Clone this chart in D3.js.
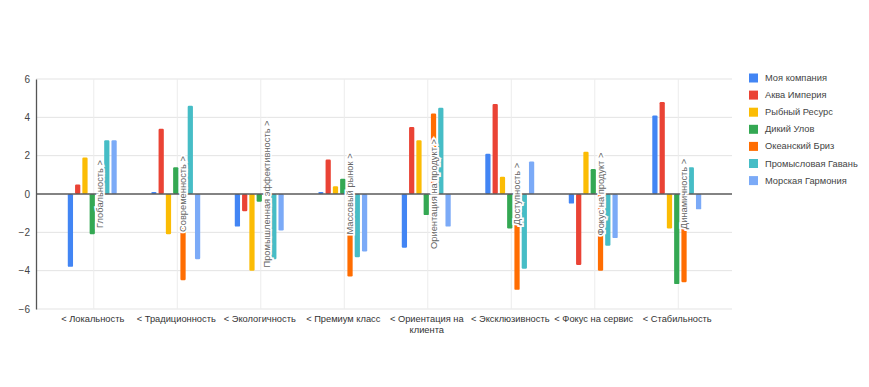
<!DOCTYPE html>
<html>
<head>
<meta charset="utf-8">
<script src="https://cdn.jsdelivr.net/npm/d3@7"></script>
<style>
  body { margin: 0; background: #fff; }
  svg { font-family: Arial, "Liberation Sans", sans-serif; }
</style>
</head>
<body>
<svg id="chart" width="869" height="387"></svg>
<script>
const categories = ["< Локальность", "< Традиционность", "< Экологичность", "< Премиум класс",
  "< Ориентация на клиента", "< Эксклюзивность", "< Фокус на сервис", "< Стабильность"];
const opposites = ["Глобальность >", "Современность >", "Промышленная эффективность >", "Массовый рынок >",
  "Ориентация на продукт >", "Доступность >", "Фокус на продукт >", "Динамичность >"];
const seriesNames = ["Моя компания", "Аква Империя", "Рыбный Ресурс", "Дикий Улов",
  "Океанский Бриз", "Промысловая Гавань", "Морская Гармония"];
const colors = ["#4285F4", "#EA4335", "#FBBC04", "#34A853", "#FF6D01", "#46BDC6", "#7BAAF7"];

const myCompany = [-3.8, 0.1, -1.7, 0.1, -2.8, 2.1, -0.5, 4.1];
const akvaImperia = [0.5, 3.4, -0.9, 1.8, 3.5, 4.7, -3.7, 4.8];
const rybnyResurs = [1.9, -2.1, -4.0, 0.4, 2.8, 0.9, 2.2, -1.8];
const dikiyUlov = [-2.1, 1.4, -0.4, 0.8, -1.1, -1.8, 1.3, -4.7];
const okeanskiyBriz = [0, -4.5, 0, -4.3, 4.2, -5.0, -4.0, -4.6];
const promyslovayaGavan = [2.8, 4.6, -3.4, -3.3, 4.5, -3.9, -2.7, 1.4];
const morskayaGarmonia = [2.8, -3.4, -1.9, -3.0, -1.7, 1.7, -2.3, -0.8];
const seriesValues = [myCompany, akvaImperia, rybnyResurs, dikiyUlov, okeanskiyBriz, promyslovayaGavan, morskayaGarmonia];
const yTicks = [-6, -4, -2, 0, 2, 4, 6];

const svg = d3.select("svg#chart");
const plot = { left: 36, right: 732, top: 79, bottom: 309 };

// SCALES
const x0 = d3.scaleBand().domain(categories).range([51, 719]).padding(0);
const x1 = d3.scaleBand().domain(seriesNames).range([-27, 26]).padding(0.28);
const y = d3.scaleLinear().domain([-6, 6]).range([plot.bottom, plot.top]);
const cx = c => x0(c) + x0.bandwidth() / 2;

// GRID
svg.append("g")
  .selectAll("line")
  .data(yTicks.filter(d => d !== 0))
  .join("line")
  .attr("x1", plot.left).attr("x2", plot.right)
  .attr("y1", d => y(d)).attr("y2", d => y(d))
  .attr("stroke", "#e3e3e3");

svg.append("g")
  .selectAll("line")
  .data(categories)
  .join("line")
  .attr("x1", d => cx(d) + 1).attr("x2", d => cx(d) + 1)
  .attr("y1", plot.top).attr("y2", plot.bottom)
  .attr("stroke", "#ececec");

// BARS
const groups = svg.append("g")
  .selectAll("g")
  .data(categories)
  .join("g")
  .attr("transform", d => `translate(${cx(d)},0)`);

groups.selectAll("rect")
  .data((c, i) => seriesNames.map((s, k) => ({ s, k, v: seriesValues[k][i] })))
  .join("rect")
  .attr("x", d => x1(d.s))
  .attr("width", x1.bandwidth())
  .attr("y", d => y(Math.max(0, d.v)))
  .attr("height", d => Math.abs(y(d.v) - y(0)))
  .attr("rx", 1.2)
  .attr("fill", d => colors[d.k]);

// ZERO LINE + AXIS
svg.append("line")
  .attr("x1", plot.left).attr("x2", plot.right)
  .attr("y1", y(0)).attr("y2", y(0))
  .attr("stroke", "#5a5a5a").attr("stroke-width", 1.3);

const yAxis = g => g.attr("transform", `translate(${plot.left},0)`)
  .call(d3.axisLeft(y).tickValues(yTicks).tickSize(0).tickSizeOuter(0).tickPadding(6))
  .call(g => g.select(".domain").attr("stroke", "#555").attr("stroke-width", 1.3))
  .call(g => g.selectAll("text").attr("fill", "#444").style("font-size", "10px"));
svg.append("g").call(yAxis);

// OPPOSITE LABELS (rotated annotations on the 5th series column)
svg.append("g")
  .selectAll("text")
  .data(categories)
  .join("text")
  .attr("transform", d => `translate(${cx(d) + x1(seriesNames[4]) + x1.bandwidth() / 2},${y(0)}) rotate(-90)`)
  .attr("text-anchor", "middle")
  .attr("dominant-baseline", "central")
  .style("font-size", "9.3px")
  .attr("fill", "#666")
  .attr("stroke", "#fff")
  .attr("stroke-width", 3.5)
  .attr("paint-order", "stroke")
  .text((d, i) => opposites[i]);

// X LABELS
const xl = svg.append("g")
  .selectAll("text")
  .data(categories)
  .join("text")
  .attr("x", d => cx(d))
  .attr("y", 322)
  .attr("text-anchor", "middle")
  .style("font-size", "9.3px")
  .attr("fill", "#333");

xl.each(function (d) {
  const t = d3.select(this);
  const words = d.split(" ");
  let line = [];
  let ts = t.append("tspan").attr("x", cx(d)).attr("dy", 0);
  words.forEach(w => {
    line.push(w);
    ts.text(line.join(" "));
    if (ts.node().getComputedTextLength() > 84 && line.length > 1) {
      line.pop();
      ts.text(line.join(" "));
      line = [w];
      ts = t.append("tspan").attr("x", cx(d)).attr("dy", 11).text(w);
    }
  });
});

// LEGEND
const legend = svg.append("g")
  .selectAll("g")
  .data(seriesNames)
  .join("g")
  .attr("transform", (d, i) => `translate(749,${78 + i * 17.1})`);

legend.append("rect")
  .attr("x", 0).attr("y", -4.5)
  .attr("width", 9).attr("height", 9)
  .attr("fill", (d, i) => colors[i]);

legend.append("text")
  .attr("x", 16).attr("y", 0)
  .attr("dominant-baseline", "central")
  .style("font-size", "9.3px")
  .attr("fill", "#444")
  .text(d => d);
</script>
</body>
</html>
